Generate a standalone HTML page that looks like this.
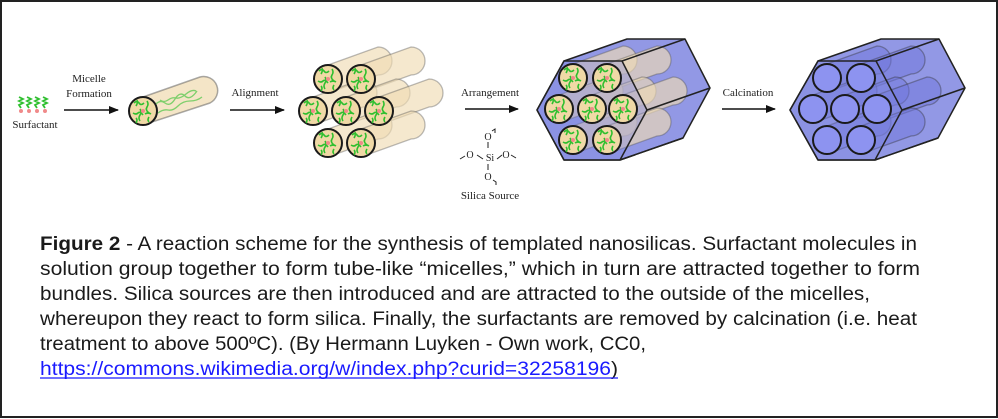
<!DOCTYPE html>
<html><head><meta charset="utf-8"><style>
html,body{margin:0;padding:0;background:#fff}
svg{display:block}
</style></head><body>
<svg width="998" height="419" viewBox="0 0 998 419" xmlns="http://www.w3.org/2000/svg">
<defs>
<g id="face">
<circle r="14" fill="#f0d9a6" stroke="#1a1a1a" stroke-width="2"/>
<path d="M-9,-8 q3,-3 5,0 t5,0 M-3,-2 q2,3 0,6 t0,6 M4,-10 q2,3 0,6 t2,6 M-10,2 q3,2 5,0 t5,2 M2,3 q3,-2 6,0 M-6,-11 q1,3 -1,6 M6,6 q-2,3 0,5 M-7,7 q2,2 0,5" fill="none" stroke="#2fbf2f" stroke-width="1.6"/>
<circle r="2" fill="#f08a8a"/>
</g>
<g id="tube">
<path d="M0,-14 L50,-32 A14,14 0 0 1 50,-4 L0,14 Z" fill="#f0dcb4" fill-opacity="0.65" stroke="#555" stroke-opacity="0.4" stroke-width="1.3"/>
</g>
<g id="bluetube">
<path d="M0,-14 L50,-32 A14,14 0 0 1 50,-4 L0,14 Z" fill="#6f76dc" fill-opacity="0.5" stroke="#333" stroke-opacity="0.4" stroke-width="1.3"/>
</g>
<marker id="ar" markerWidth="10" markerHeight="8" refX="9" refY="4" orient="auto" markerUnits="userSpaceOnUse"><path d="M0,0 L10,4 L0,8 Z" fill="#111"/></marker>
</defs>
<rect x="1" y="1" width="996" height="416" fill="#fff" stroke="#222" stroke-width="2"/>

<g font-family="Liberation Serif, serif" font-size="11" fill="#222" text-anchor="middle">
<text x="35" y="128">Surfactant</text>
<text x="89" y="82">Micelle</text>
<text x="89" y="97">Formation</text>
<text x="255" y="96">Alignment</text>
<text x="490" y="96">Arrangement</text>
<text x="748" y="96">Calcination</text>
<text x="490" y="199">Silica Source</text>
<text x="488" y="140" font-size="10">O</text>
<text x="490" y="161" font-size="10">Si</text>
<text x="488" y="180" font-size="10">O</text>
<text x="470" y="158" font-size="10">O</text>
<text x="506" y="158" font-size="10">O</text>
</g>
<path d="M492,131 l3,-2 l0,4 M488,142 v6 M488,164 v6 M493,180 l3,2 l0,3 M465,156 l-5,3 M477,155 l6,4 M497,159 l5,-4 M511,155 l5,3" fill="none" stroke="#222" stroke-width="1"/>

<g stroke="#111" stroke-width="1.5" marker-end="url(#ar)">
<line x1="64" y1="110" x2="118" y2="110"/>
<line x1="230" y1="110" x2="284" y2="110"/>
<line x1="465" y1="109" x2="518" y2="109"/>
<line x1="722" y1="109" x2="775" y2="109"/>
</g>

<!-- surfactant -->
<g fill="none" stroke="#2fbf2f" stroke-width="1.8">
<path d="M19,97 l4,2 l-4,2 l4,2 l-4,2 l2,3 M27,97 l4,2 l-4,2 l4,2 l-4,2 l2,3 M35,97 l4,2 l-4,2 l4,2 l-4,2 l2,3 M43,97 l4,2 l-4,2 l4,2 l-4,2 l2,3"/>
</g>
<g fill="#f08a8a"><circle cx="21" cy="111" r="2"/><circle cx="29" cy="111" r="2"/><circle cx="37" cy="111" r="2"/><circle cx="45" cy="111" r="2"/></g>

<!-- micelle -->
<path d="M143,97 L200,77 A14,14 0 0 1 210,103 L143,125 Z" fill="#f0dcb4" fill-opacity="0.75" stroke="#555" stroke-opacity="0.5" stroke-width="1.5"/>
<path d="M155,105 q5,-6 10,-2 t10,-4 t10,-3 t12,-5 M158,113 q5,-4 10,-3 t10,-4 t12,-5 t12,-4 M160,100 q4,3 8,0 t8,-2 t10,-4 t10,-3" fill="none" stroke="#2fbf2f" stroke-width="1.3" opacity="0.6"/>
<use href="#face" x="143" y="111"/>

<!-- bundle -->
<g>
<use href="#tube" x="328" y="79"/><use href="#tube" x="361" y="79"/>
<use href="#tube" x="313" y="111"/><use href="#tube" x="346" y="111"/><use href="#tube" x="379" y="111"/>
<use href="#tube" x="328" y="143"/><use href="#tube" x="361" y="143"/>
<use href="#face" x="328" y="79"/><use href="#face" x="361" y="79"/>
<use href="#face" x="313" y="111"/><use href="#face" x="346" y="111"/><use href="#face" x="379" y="111"/>
<use href="#face" x="328" y="143"/><use href="#face" x="361" y="143"/>
</g>

<!-- hex 1 -->
<g stroke="#222" stroke-width="1.5" stroke-linejoin="round">
<path d="M537,110 L564,61 L627,39 L685,39 L710,88 L683,138 L620,160 L564,160 Z" fill="#7f86e0" fill-opacity="0.85"/>
<g stroke-width="1">
<use href="#tube" x="573" y="78"/><use href="#tube" x="607" y="78"/>
<use href="#tube" x="559" y="109"/><use href="#tube" x="592" y="109"/><use href="#tube" x="623" y="109"/>
<use href="#tube" x="573" y="140"/><use href="#tube" x="607" y="140"/>
</g>
<path d="M622,61 L685,39 M647,110 L710,88 M620,160 L683,138" fill="none"/>
<path d="M537,110 L564,61 L622,61 L647,110 L620,160 L564,160 Z" fill="#7f86e0" fill-opacity="0.35"/>
</g>
<use href="#face" x="573" y="78"/><use href="#face" x="607" y="78"/>
<use href="#face" x="559" y="109"/><use href="#face" x="592" y="109"/><use href="#face" x="623" y="109"/>
<use href="#face" x="573" y="140"/><use href="#face" x="607" y="140"/>

<!-- hex 2 -->
<g stroke="#222" stroke-width="1.5" stroke-linejoin="round">
<path d="M790,110 L818,61 L881,39 L939,39 L965,88 L938,138 L875,160 L818,160 Z" fill="#7f86e0" fill-opacity="0.85"/>
<use href="#bluetube" x="827" y="78"/><use href="#bluetube" x="861" y="78"/>
<use href="#bluetube" x="813" y="109"/><use href="#bluetube" x="845" y="109"/><use href="#bluetube" x="877" y="109"/>
<use href="#bluetube" x="827" y="140"/><use href="#bluetube" x="861" y="140"/>
<path d="M876,61 L939,39 M902,110 L965,88 M875,160 L938,138" fill="none"/>
<path d="M790,110 L818,61 L876,61 L902,110 L875,160 L818,160 Z" fill="#7f86e0" fill-opacity="0.35"/>
</g>
<g fill="#8d93f0" stroke="#1a1a1a" stroke-width="2">
<circle cx="827" cy="78" r="14"/><circle cx="861" cy="78" r="14"/>
<circle cx="813" cy="109" r="14"/><circle cx="845" cy="109" r="14"/><circle cx="877" cy="109" r="14"/>
<circle cx="827" cy="140" r="14"/><circle cx="861" cy="140" r="14"/>
</g>

<!-- caption -->
<g font-family="Liberation Sans, sans-serif" font-size="19" fill="#1a1a1a">
<text x="40" y="250" textLength="877" lengthAdjust="spacingAndGlyphs"><tspan font-weight="bold">Figure 2</tspan> - A reaction scheme for the synthesis of templated nanosilicas. Surfactant molecules in</text>
<text x="40" y="275" textLength="880" lengthAdjust="spacingAndGlyphs">solution group together to form tube-like “micelles,” which in turn are attracted together to form</text>
<text x="40" y="300" textLength="830" lengthAdjust="spacingAndGlyphs">bundles. Silica sources are then introduced and are attracted to the outside of the micelles,</text>
<text x="40" y="325" textLength="877" lengthAdjust="spacingAndGlyphs">whereupon they react to form  silica. Finally, the surfactants  are removed by calcination (i.e. heat</text>
<text x="40" y="350" textLength="606" lengthAdjust="spacingAndGlyphs">treatment to above 500ºC). (By Hermann Luyken - Own  work, CC0,</text>
<text x="40" y="375" textLength="578" lengthAdjust="spacingAndGlyphs"><tspan fill="#1a1aff">https://commons.wikimedia.org/w/index.php?curid=32258196</tspan>)</text>
</g>
<line x1="40" y1="378" x2="618" y2="378" stroke="#1a1aff" stroke-width="1.2"/>
</svg>
</body></html>
